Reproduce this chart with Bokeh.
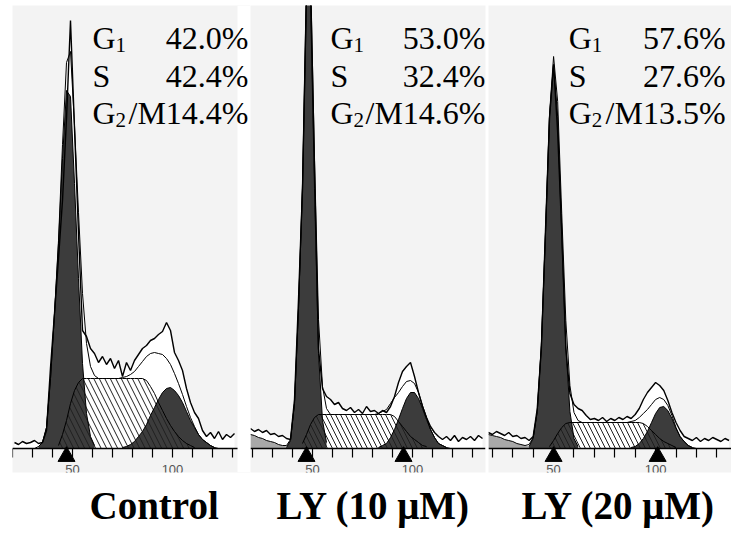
import numpy as np
from bokeh.plotting import figure
from bokeh.layouts import row
from bokeh.models import LinearAxis, FixedTicker, Label, Title, BoxAnnotation
from bokeh.embed import file_html
from bokeh.resources import INLINE

# ---------------- DNA histograms (channel vs. cell count) ----------------
# Control
CH_1 = list(range(21, 132, 2))
RAW_1 = [6, 4, 7, 5, 6, 8, 5, 6, 18, 81, 135, 190, 248, 330, 428, 320, 215, 118,
         112, 100, 95, 86, 92, 84, 90, 80, 88, 72, 86, 78, 88, 94, 100, 103, 108,
         110, 114, 117, 126, 118, 96, 88, 78, 60, 46, 36, 30, 18, 12, 16, 10, 17,
         9, 14, 11, 15]
G1_CH_1 = [33, 35, 37, 39, 41, 43, 45, 47, 49, 51, 53, 55, 57, 59, 61]
G1_1 = [2, 6, 21, 70, 135, 205, 290, 358, 352, 265, 170, 85, 35, 12, 3]
S_CH_1 = [43, 45, 47, 49, 51, 53, 55, 57, 59, 61, 63, 65, 67, 69, 71, 73, 75, 77,
          79, 81, 83, 85, 87, 89, 91, 93, 95, 97, 99, 101, 103, 105, 107, 109, 111]
S_1 = [3, 14, 28, 45, 58, 66, 70, 70, 70, 70, 70, 70, 70, 70, 70, 70, 70, 70,
       70, 70, 70, 70, 68, 62, 55, 46, 38, 30, 23, 17, 12, 8, 5, 3, 1]
G2_CH_1 = [75, 77, 79, 81, 83, 85, 87, 89, 91, 93, 95, 97, 99, 101, 103, 105, 107,
           109, 111, 113, 115, 117, 119, 121]
G2_1 = [1, 2, 4, 7, 12, 17, 24, 33, 41, 49, 56, 60, 61, 58, 53, 46, 37, 28, 21,
        14, 9, 6, 3, 1]
DEB_CH_1 = []
DEB_1 = []
MARKS_1 = [47]

# LY (10 uM)
CH_2 = list(range(19, 136, 2))
RAW_2 = [20, 17, 19, 16, 18, 14, 15, 12, 13, 10, 9, 49, 149, 260, 460, 470, 280,
         100, 60, 52, 49, 44, 46, 40, 38, 41, 36, 39, 35, 42, 37, 38, 35, 38, 36,
         42, 52, 66, 77, 82, 86, 72, 56, 42, 31, 22, 16, 12, 9, 12, 8, 13, 7, 11,
         9, 12, 8, 13, 10]
G1_CH_2 = [37, 39, 41, 43, 45, 47, 49, 51, 53, 55, 57]
G1_2 = [1, 8, 45, 140, 260, 450, 450, 260, 95, 28, 6]
S_CH_2 = [45, 47, 49, 51, 53, 55, 57, 59, 61, 63, 65, 67, 69, 71, 73, 75, 77, 79,
          81, 83, 85, 87, 89, 91, 93, 95, 97, 99, 101, 103, 105, 107]
S_2 = [5, 14, 24, 31, 34, 34, 34, 34, 34, 34, 34, 34, 34, 34, 34, 34, 34, 34, 34,
       34, 34, 34, 34, 32, 27, 22, 17, 12, 9, 6, 3, 2]
G2_CH_2 = [83, 85, 87, 89, 91, 93, 95, 97, 99, 101, 103, 105, 107, 109, 111, 113,
           115, 117]
G2_2 = [1, 3, 5, 11, 19, 29, 40, 50, 56, 56, 50, 40, 29, 19, 11, 5, 3, 1]
DEB_CH_2 = [19, 21, 23, 25, 27, 29, 31, 33, 35, 37, 39, 41]
DEB_2 = [14, 13, 11, 10, 8, 7, 6, 4, 3, 2, 1, 0]
MARKS_2 = [47, 95.5]

# LY (20 uM)
CH_3 = list(range(18, 137, 2))
RAW_3 = [16, 14, 17, 15, 13, 16, 12, 13, 10, 11, 8, 12, 40, 100, 216, 330, 384,
         316, 216, 100, 55, 44, 40, 38, 33, 29, 30, 28, 31, 27, 30, 28, 31, 29,
         32, 30, 34, 40, 49, 56, 61, 66, 63, 58, 48, 36, 26, 18, 12, 10, 8, 11,
         7, 10, 8, 11, 9, 7, 10, 8]
G1_CH_3 = [38, 40, 42, 44, 46, 48, 50, 52, 54, 56, 58, 60, 62]
G1_3 = [2, 10, 37, 103, 214, 332, 384, 332, 214, 103, 37, 10, 2]
S_CH_3 = [48, 50, 52, 54, 56, 58, 60, 62, 64, 66, 68, 70, 72, 74, 76, 78, 80, 82,
          84, 86, 88, 90, 92, 94, 96, 98, 100, 102, 104, 106, 108, 110]
S_3 = [2, 8, 15, 21, 25, 26, 26, 26, 26, 26, 26, 26, 26, 26, 26, 26, 26, 26, 26,
       26, 26, 26, 26, 25, 22, 18, 14, 10, 7, 5, 3, 1]
G2_CH_3 = [88, 90, 92, 94, 96, 98, 100, 102, 104, 106, 108, 110, 112, 114, 116, 118]
G2_3 = [1, 2, 5, 10, 17, 26, 35, 41, 42, 38, 30, 20, 12, 7, 3, 1]
DEB_CH_3 = [18, 20, 22, 24, 26, 28, 30, 32, 34, 36, 38, 40, 42]
DEB_3 = [14, 13, 12, 11, 9, 8, 7, 5, 4, 3, 2, 1, 0]
MARKS_3 = [50, 101]

# Axis ticks and labels
TICKS = [20, 30, 40, 50, 60, 70, 80, 90, 100, 110, 120, 130]
TICK_TEXT = {50: "50", 100: "100"}

# Cell-cycle phase fractions
TITLES = ["Control", "LY (10 \u03bcM)", "LY (20 \u03bcM)"]
G1_PCT = ["42.0%", "53.0%", "57.6%"]
S_PCT = ["42.4%", "32.4%", "27.6%"]
G2M_PCT = ["14.4%", "14.6%", "13.5%"]

# ---------------- styling / layout ----------------
BG = "#f3f3f3"
DARK = "#3c3c3c"
DEBRIS = "#a8a8a8"
SERIF = "Liberation Serif"
Y_RANGE = (-24, 443)

PANELS = [
    dict(ch=CH_1, raw=RAW_1, g1=(G1_CH_1, G1_1), s=(S_CH_1, S_1), g2=(G2_CH_1, G2_1),
         deb=(DEB_CH_1, DEB_1), marks=MARKS_1, xr=(20, 139), bounds=(20, 132.5),
         width=250, bl=12, br=0, text_l=60, text_r=138, title_off=77, hatch=11),
    dict(ch=CH_2, raw=RAW_2, g1=(G1_CH_2, G1_2), s=(S_CH_2, S_2), g2=(G2_CH_2, G2_2),
         deb=(DEB_CH_2, DEB_2), marks=MARKS_2, xr=(19, 136.5), bounds=None,
         width=238, bl=0, br=3, text_l=59, text_r=136.5, title_off=26, hatch=10),
    dict(ch=CH_3, raw=RAW_3, g1=(G1_CH_3, G1_3), s=(S_CH_3, S_3), g2=(G2_CH_3, G2_3),
         deb=(DEB_CH_3, DEB_3), marks=MARKS_3, xr=(18.1, 137.2), bounds=None,
         width=243, bl=0, br=0, text_l=57.4, text_r=134.3, title_off=33, hatch=10),
]


def on_grid(grid, chs, vals):
    lookup = dict(zip(chs, vals))
    return np.array([lookup.get(c, 0) for c in grid], dtype=float)


def make_panel(i, spec):
    p = figure(width=spec["width"], height=541, x_range=spec["xr"], y_range=Y_RANGE,
               output_backend="svg", toolbar_location=None,
               x_axis_location=None, y_axis_location=None,
               min_border_left=spec["bl"], min_border_right=spec["br"],
               min_border_top=5, min_border_bottom=69,
               background_fill_color=BG, border_fill_color="white",
               outline_line_color=None)
    p.grid.visible = False

    # white gutter to the right of the histogram frame (text may run into it)
    if spec["bounds"] is not None:
        p.add_layout(BoxAnnotation(left=spec["bounds"][1], fill_color="white",
                                   fill_alpha=1, line_color=None, level="underlay"))

    ch = np.array(spec["ch"], dtype=float)
    raw = np.array(spec["raw"], dtype=float)
    g1 = on_grid(spec["ch"], *spec["g1"])
    s = on_grid(spec["ch"], *spec["s"])
    g2 = on_grid(spec["ch"], *spec["g2"])
    deb = on_grid(spec["ch"], *spec["deb"])
    fit = g1 + s + g2 + deb

    # histogram interior
    p.varea(x=ch, y1=0, y2=raw, fill_color="white")
    # debris
    if spec["deb"][0]:
        p.varea(x=spec["deb"][0], y1=0, y2=spec["deb"][1], fill_color=DEBRIS)
    # S phase body, G1 and G2/M peaks, S hatching on top
    p.varea(x=spec["s"][0], y1=0, y2=spec["s"][1], fill_color="white")
    p.varea(x=spec["g1"][0], y1=0, y2=spec["g1"][1], fill_color=DARK)
    p.varea(x=spec["g2"][0], y1=0, y2=spec["g2"][1], fill_color=DARK)
    p.varea(x=spec["s"][0], y1=0, y2=spec["s"][1], fill_color=None,
            hatch_pattern="left_diagonal_line", hatch_color="#1e1e1e",
            hatch_scale=spec["hatch"], hatch_weight=1.0)
    p.line(spec["s"][0], spec["s"][1], line_color="black", line_width=1)
    p.line(spec["g1"][0], spec["g1"][1], line_color="black", line_width=1)
    p.line(spec["g2"][0], spec["g2"][1], line_color="black", line_width=1)
    # model sum and measured histogram
    p.line(ch, fit, line_color="black", line_width=1)
    p.line(ch, raw, line_color="black", line_width=1.4)

    # peak position markers under the axis
    p.scatter(x=spec["marks"], y=[-8] * len(spec["marks"]), marker="triangle",
              size=17, color="black")

    ax = LinearAxis(fixed_location=0, ticker=FixedTicker(ticks=TICKS))
    if spec["bounds"] is not None:
        ax.bounds = spec["bounds"]
    ax.major_label_overrides = {t: TICK_TEXT.get(t, "") for t in TICKS}
    ax.axis_line_color = "black"
    ax.axis_line_width = 1.5
    ax.major_tick_in = 0
    ax.major_tick_out = 9
    ax.major_tick_line_width = 1.2
    ax.minor_tick_line_color = None
    ax.major_label_standoff = 7
    ax.major_label_text_font = "Liberation Sans"
    ax.major_label_text_font_size = "13px"
    ax.major_label_text_color = "#555555"
    p.add_layout(ax, "below")

    # phase percentages
    fs, sub = "32px", "21px"
    rows_y = [411, 373, 336]
    common = dict(text_font=SERIF, text_color="black", text_baseline="alphabetic")
    p.add_layout(Label(x=spec["text_l"], y=rows_y[0], text="G", text_font_size=fs, **common))
    p.add_layout(Label(x=spec["text_l"], y=rows_y[0], text="1", x_offset=23, y_offset=-7,
                       text_font_size=sub, **common))
    p.add_layout(Label(x=spec["text_r"], y=rows_y[0], text=G1_PCT[i], text_align="right",
                       text_font_size=fs, **common))
    p.add_layout(Label(x=spec["text_l"], y=rows_y[1], text="S", text_font_size=fs, **common))
    p.add_layout(Label(x=spec["text_r"], y=rows_y[1], text=S_PCT[i], text_align="right",
                       text_font_size=fs, **common))
    p.add_layout(Label(x=spec["text_l"], y=rows_y[2], text="G", text_font_size=fs, **common))
    p.add_layout(Label(x=spec["text_l"], y=rows_y[2], text="2", x_offset=23, y_offset=-7,
                       text_font_size=sub, **common))
    p.add_layout(Label(x=spec["text_r"], y=rows_y[2], text="/M" + G2M_PCT[i],
                       text_align="right", text_font_size=fs, **common))

    p.add_layout(Title(text=TITLES[i], align="left", offset=spec["title_off"],
                       standoff=18, text_font=SERIF, text_font_size="39px",
                       text_font_style="bold", text_color="black"), "below")
    return p


panels = [make_panel(i, spec) for i, spec in enumerate(PANELS)]
layout = row(*panels, spacing=0)

open("out.html", "w").write(file_html(layout, INLINE))
